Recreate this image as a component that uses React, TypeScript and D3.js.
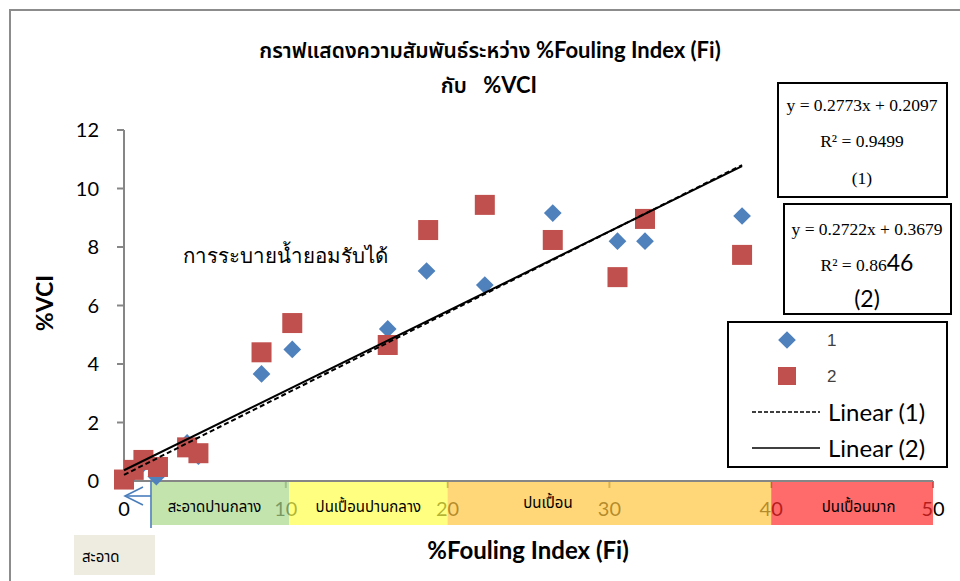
import React from 'react';
import * as d3 from 'd3';

// series 1 (blue diamonds) and series 2 (red squares): [Fi, VCI]
const fi1 = [0, 0.6, 1.2, 2.0, 3.9, 4.6, 8.5, 10.4, 16.3, 18.7, 22.3, 26.5, 30.5, 32.2, 38.2];
const vci1 = [0.1, 0.3, 0.6, 0.15, 1.3, 0.85, 3.66, 4.5, 5.2, 7.18, 6.7, 9.16, 8.2, 8.2, 9.06];
const fi2 = [0, 0.6, 1.2, 2.1, 3.9, 4.6, 8.5, 10.4, 16.3, 18.8, 22.3, 26.5, 30.5, 32.2, 38.2];
const vci2 = [0.05, 0.38, 0.72, 0.48, 1.15, 0.95, 4.4, 5.4, 4.65, 8.58, 9.44, 8.24, 6.97, 8.96, 7.73];

const trend1 = { slope: 0.2773, icept: 0.2097 };
const trend2 = { slope: 0.2722, icept: 0.3679 };

const xTicks = [0, 10, 20, 30, 40, 50];
const yTicks = [0, 2, 4, 6, 8, 10, 12];

const bandNames = ['สะอาดปานกลาง', 'ปนเปื้อนปานกลาง', 'ปนเปื้อน', 'ปนเปื้อนมาก'];
const bandFrom = [1.7, 10.2, 20, 40];
const bandTo = [10.2, 20, 40, 50];
const bandLabelAt = [5.6, 15.1, 26.2, 45.4];
const bandColors = ['#abd98c', '#ffff4a', '#ffc63f', '#ff2b2b'];

const thai = "Tahoma, 'Noto Sans Thai', 'Noto Sans', sans-serif";
const latin = "Lato, 'Open Sans', sans-serif";
const serif = "'Liberation Serif', 'Times New Roman', serif";

export default function App() {
  const x = d3.scaleLinear().domain([0, 50]).range([124, 933]);
  const y = d3.scaleLinear().domain([0, 12]).range([481, 130]);

  const line1 = d3.line<number>().x(v => x(v)).y(v => y(trend1.slope * v + trend1.icept));
  const line2 = d3.line<number>().x(v => x(v)).y(v => y(trend2.slope * v + trend2.icept));
  const ext1 = d3.extent(fi1) as [number, number];
  const ext2 = d3.extent(fi2) as [number, number];
  const diamond = d3.symbol().type(d3.symbolDiamond2).size(200)() as string;

  return (
    <svg width={960} height={581} style={{ position: 'absolute', left: 0, top: 0, background: '#fff' }}>
      {/* outer frame */}
      <path d="M10,581 V10 H960" fill="none" stroke="#8c8c8c" strokeWidth={2} />

      {/* title */}
      <text x={490} y={58} textAnchor="middle" fontSize={21} fill="#000">
        <tspan fontFamily={thai} fontWeight={600}>กราฟแสดงความสัมพันธ์ระหว่าง </tspan>
        <tspan fontFamily={latin} fontWeight="bold" fontSize={22}>%Fouling Index (Fi)</tspan>
      </text>
      <text x={489} y={93} textAnchor="middle" fontSize={21} fill="#000" style={{ whiteSpace: 'pre' }}>
        <tspan fontFamily={thai} fontWeight={600}>{'กับ\u00a0\u00a0\u00a0'}</tspan>
        <tspan fontFamily={latin} fontWeight="bold" fontSize={22}>%VCI</tspan>
      </text>

      {/* axes */}
      <g stroke="#868686" strokeWidth={2}>
        <line x1={124} x2={124} y1={y(12)} y2={y(0)} />
        <line x1={x(0)} x2={x(50)} y1={y(0)} y2={y(0)} />
        {yTicks.map(t => <line key={t} x1={117} x2={124} y1={y(t)} y2={y(t)} />)}
        {xTicks.map(t => <line key={t} x1={x(t)} x2={x(t)} y1={y(0)} y2={y(0) + 7} />)}
      </g>
      <g fontFamily={latin} fontSize={20} fill="#000">
        {yTicks.map(t => <text key={t} x={99} y={y(t) + 7} textAnchor="end">{t}</text>)}
        {xTicks.map(t => <text key={t} x={x(t)} y={516} textAnchor="middle">{t}</text>)}
      </g>

      {/* fouling classes drawn over the x labels */}
      {bandNames.map((n, i) => (
        <g key={n}>
          <rect x={x(bandFrom[i])} y={482} width={x(bandTo[i]) - x(bandFrom[i])} height={43}
            fill={bandColors[i]} opacity={0.7} />
          <text x={x(bandLabelAt[i])} y={i === 2 ? 508 : 512} textAnchor="middle"
            fontFamily={thai} fontSize={15} fill="#000">{n}</text>
        </g>
      ))}

      {/* clean marker arrow */}
      <g stroke="#4a7ebb" strokeWidth={1.6} fill="none">
        <line x1={151} x2={151} y1={481} y2={528} />
        <line x1={151} x2={126} y1={496} y2={496} />
        <path d="M143,487 L125,496 L143,505" />
      </g>
      <rect x={74} y={535} width={81} height={40} fill="#eeece1" />
      <text x={82} y={562} fontFamily={thai} fontSize={15} fill="#000">สะอาด</text>

      {/* axis titles */}
      <text x={528} y={559} textAnchor="middle" fontFamily={latin} fontWeight="bold" fontSize={24}>%Fouling Index (Fi)</text>
      <text transform="translate(53,303) rotate(-90)" textAnchor="middle" fontFamily={latin} fontWeight="bold" fontSize={23}>%VCI</text>

      <text x={183} y={263} fontFamily={serif} fontSize={20.5} fill="#000">การระบายน้ำยอมรับได้</text>

      {/* points */}
      {fi1.map((v, i) => (
        <path key={'a' + i} d={diamond} transform={`translate(${x(v)},${y(vci1[i])})`} fill="#4f81bd" />
      ))}
      {fi2.map((v, i) => (
        <rect key={'b' + i} x={x(v) - 10} y={y(vci2[i]) - 10} width={20} height={20} fill="#c0504d" />
      ))}

      {/* trendlines */}
      <path d={line1(ext1) || ''} fill="none" stroke="#000" strokeWidth={2} strokeDasharray="5,3" />
      <path d={line2(ext2) || ''} fill="none" stroke="#000" strokeWidth={2} />

      {/* equation boxes */}
      <rect x={778} y={83} width={169} height={114} fill="#fff" stroke="#000" strokeWidth={2} />
      <g fontFamily={serif} fontSize={17.5} textAnchor="middle" fill="#000">
        <text x={862} y={111}>y = 0.2773x + 0.2097</text>
        <text x={862} y={147}>R² = 0.9499</text>
        <text x={862} y={184}>(1)</text>
      </g>
      <rect x={784} y={204} width={167} height={110} fill="#fff" stroke="#000" strokeWidth={2} />
      <g fontFamily={serif} fontSize={17.5} textAnchor="middle" fill="#000">
        <text x={867} y={235}>y = 0.2722x + 0.3679</text>
        <text x={867} y={271}>R² = 0.86<tspan fontFamily={latin} fontSize={23}>46</tspan></text>
        <text x={867} y={307} fontFamily={latin} fontSize={23}>(2)</text>
      </g>

      {/* legend */}
      <rect x={728} y={322} width={219} height={145} fill="#fff" stroke="#000" strokeWidth={2} />
      <path d={diamond} transform="translate(787,340)" fill="#4f81bd" />
      <text x={827} y={346} fontFamily="'Liberation Sans', Arial, sans-serif" fontSize={17} fill="#404040">1</text>
      <rect x={778} y={367} width={18} height={18} fill="#c0504d" />
      <text x={827} y={382} fontFamily="'Liberation Sans', Arial, sans-serif" fontSize={17} fill="#404040">2</text>
      <line x1={752} x2={820} y1={412} y2={412} stroke="#000" strokeWidth={1.5} strokeDasharray="4,2" />
      <text x={828} y={421} fontFamily={latin} fontSize={24}>Linear (1)</text>
      <line x1={752} x2={820} y1={448} y2={448} stroke="#000" strokeWidth={1.5} />
      <text x={828} y={457} fontFamily={latin} fontSize={24}>Linear (2)</text>
    </svg>
  );
}
